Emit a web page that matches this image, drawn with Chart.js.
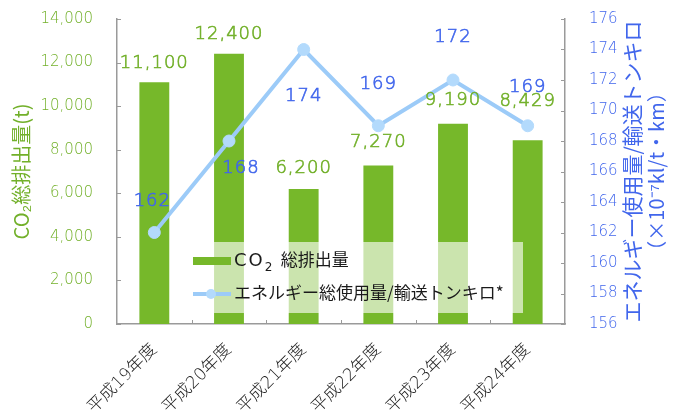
<!DOCTYPE html>
<html>
<head>
<meta charset="utf-8">
<script src="https://cdn.jsdelivr.net/npm/chart.js@4"></script>
<style>
  html, body { margin: 0; padding: 0; background: #fff; }
  #wrap { width: 674px; height: 416px; }
</style>
</head>
<body>
<div id="wrap"><canvas id="co2Chart" width="674" height="416"></canvas></div>
<script>
// データ
const years = ['平成19年度', '平成20年度', '平成21年度', '平成22年度', '平成23年度', '平成24年度'];
const co2Total = [11100, 12400, 6200, 7270, 9190, 8429];
const energyPerTonKm = [162, 168, 174, 169, 172, 169];

// ラベルの位置調整 (px)
const barLabelShift = [-19, -20, -21, -23, -23, -39];
const lineLabelShiftY = [-31, 27, 47, -41, -43, -38];
const lineLabelShiftX = [-2, 12, 0, 0, 0, 0];

const FONT = '"DejaVu Sans", "Noto Sans CJK JP", sans-serif';
const JP_FONT = '"Noto Sans CJK JP", sans-serif';
const GREEN = '#76b82a';
const GREEN_TEXT = '#72b02a';
const BLUE_LINE = '#9ccbf8';
const BLUE_TEXT = '#4166ec';
const AXIS = '#9a9a9a';

// 内側の目盛り線
const innerTicks = {
    id: 'innerTicks',
    afterDraw(chart) {
        const ctx = chart.ctx;
        const area = chart.chartArea;
        const len = 4;
        ctx.save();
        ctx.strokeStyle = AXIS;
        ctx.lineWidth = 1;
        chart.scales.y.ticks.forEach((t, i) => {
            const y = Math.round(chart.scales.y.getPixelForTick(i)) + 0.5;
            ctx.beginPath(); ctx.moveTo(area.left, y); ctx.lineTo(area.left + len, y); ctx.stroke();
        });
        chart.scales.y1.ticks.forEach((t, i) => {
            const y = Math.round(chart.scales.y1.getPixelForTick(i)) + 0.5;
            ctx.beginPath(); ctx.moveTo(area.right, y); ctx.lineTo(area.right - len, y); ctx.stroke();
        });
        const step = (area.right - area.left) / years.length;
        for (let i = 1; i < years.length; i++) {
            const x = Math.round(area.left + step * i) + 0.5;
            ctx.beginPath(); ctx.moveTo(x, area.bottom); ctx.lineTo(x, area.bottom - len); ctx.stroke();
        }
        ctx.restore();
    }
};

// 凡例とデータラベル
const legendAndLabels = {
    id: 'legendAndLabels',
    afterDatasetsDraw(chart) {
        const ctx = chart.ctx;
        ctx.save();

        // 凡例 (半透明の白い背景)
        ctx.fillStyle = 'rgba(255,255,255,0.62)';
        ctx.fillRect(190, 242, 333, 71);
        ctx.fillStyle = GREEN;
        ctx.fillRect(193, 257, 38, 8);
        ctx.strokeStyle = BLUE_LINE;
        ctx.lineWidth = 4;
        ctx.beginPath(); ctx.moveTo(193, 294); ctx.lineTo(231, 294); ctx.stroke();
        ctx.fillStyle = '#b3dafc';
        ctx.beginPath(); ctx.arc(211, 294, 5, 0, Math.PI * 2); ctx.fill();

        ctx.fillStyle = '#1a1a1a';
        ctx.textBaseline = 'middle';
        ctx.textAlign = 'left';
        ctx.font = '18px ' + FONT;
        ctx.letterSpacing = '2px';
        ctx.fillText('CO', 234, 261);
        let w = ctx.measureText('CO').width;
        ctx.letterSpacing = '0px';
        ctx.font = '12px ' + FONT;
        ctx.fillText('2', 234 + w, 268);
        ctx.font = '17px ' + JP_FONT;
        ctx.fillText('総排出量', 234 + w + 16, 260);
        ctx.fillText('エネルギー総使用量/輸送トンキロ*', 234, 293);

        // データラベル
        ctx.textAlign = 'center';
        ctx.font = '300 18px ' + FONT;
        ctx.letterSpacing = '1px';
        ctx.lineWidth = 0.6;
        const barMeta = chart.getDatasetMeta(0);
        ctx.fillStyle = GREEN_TEXT;
        ctx.strokeStyle = GREEN_TEXT;
        barMeta.data.forEach((bar, i) => {
            const txt = co2Total[i].toLocaleString('en-US');
            ctx.fillText(txt, bar.x, bar.y + barLabelShift[i]);
            ctx.strokeText(txt, bar.x, bar.y + barLabelShift[i]);
        });
        const lineMeta = chart.getDatasetMeta(1);
        ctx.fillStyle = BLUE_TEXT;
        ctx.strokeStyle = BLUE_TEXT;
        lineMeta.data.forEach((pt, i) => {
            const txt = String(energyPerTonKm[i]);
            ctx.fillText(txt, pt.x + lineLabelShiftX[i], pt.y + lineLabelShiftY[i]);
            ctx.strokeText(txt, pt.x + lineLabelShiftX[i], pt.y + lineLabelShiftY[i]);
        });

        ctx.restore();
    },
    afterDraw(chart) {
        const ctx = chart.ctx;
        const area = chart.chartArea;
        const midY = (area.top + area.bottom) / 2;
        ctx.save();
        ctx.textAlign = 'center';
        ctx.textBaseline = 'middle';

        // 左軸タイトル
        ctx.translate(21, midY);
        ctx.rotate(-Math.PI / 2);
        ctx.fillStyle = GREEN_TEXT;
        ctx.font = '20px ' + JP_FONT;
        ctx.fillText('CO₂総排出量(t)', 0, 0);
        ctx.restore();

        // 右軸タイトル
        ctx.save();
        ctx.textAlign = 'center';
        ctx.textBaseline = 'middle';
        ctx.fillStyle = BLUE_TEXT;
        ctx.translate(632, midY);
        ctx.rotate(-Math.PI / 2);
        ctx.font = '21px ' + JP_FONT;
        ctx.fillText('エネルギー使用量/輸送トンキロ', 0, 0);
        ctx.font = '20px ' + JP_FONT;
        ctx.fillText('（×10⁻⁷kl/t・km）', 0, 24);
        ctx.restore();
    }
};

const ctx = document.getElementById('co2Chart').getContext('2d');
const co2Chart = new Chart(ctx, {
    type: 'bar',
    data: {
        labels: years,
        datasets: [{
            type: 'bar',
            label: 'CO₂ 総排出量',
            data: co2Total,
            backgroundColor: GREEN,
            yAxisID: 'y',
            barPercentage: 0.4,
            categoryPercentage: 1.0,
            order: 1
        }, {
            type: 'line',
            label: 'エネルギー総使用量/輸送トンキロ*',
            data: energyPerTonKm,
            borderColor: BLUE_LINE,
            borderWidth: 4,
            pointRadius: 6,
            pointBackgroundColor: '#b3dafc',
            pointBorderColor: '#b3dafc',
            pointBorderWidth: 1,
            tension: 0,
            yAxisID: 'y1',
            order: 0
        }]
    },
    options: {
        responsive: false,
        animation: false,
        layout: { padding: { top: 19, left: 0, right: 0, bottom: 0 } },
        plugins: {
            legend: { display: false },
            tooltip: { enabled: false }
        },
        scales: {
            x: {
                offset: true,
                grid: { display: false },
                border: { display: true, color: AXIS, width: 1.5 },
                ticks: {
                    color: '#1a1a1a',
                    font: { family: FONT, size: 17, weight: '300' },
                    maxRotation: 45,
                    minRotation: 45,
                    padding: 8
                },
                afterFit(scale) { scale.height = 92; }
            },
            y: {
                position: 'left',
                min: 0,
                max: 14000,
                grid: { display: false },
                border: { display: true, color: AXIS, width: 1.5 },
                ticks: {
                    stepSize: 2000,
                    color: GREEN_TEXT,
                    font: { family: FONT, size: 15, weight: '300' },
                    padding: 16,
                    callback: (v) => v.toLocaleString('en-US')
                },
                afterFit(scale) {
                    scale.width = 117;
                    scale.paddingTop = 0;
                    scale.paddingBottom = 0;
                }
            },
            y1: {
                position: 'right',
                min: 156,
                max: 176,
                grid: { display: false },
                border: { display: true, color: AXIS, width: 1.5 },
                ticks: {
                    stepSize: 2,
                    color: BLUE_TEXT,
                    font: { family: FONT, size: 15, weight: '300' },
                    padding: 16
                },
                afterFit(scale) {
                    scale.width = 109;
                    scale.paddingTop = 0;
                    scale.paddingBottom = 0;
                }
            }
        }
    },
    plugins: [innerTicks, legendAndLabels]
});
</script>
</body>
</html>
